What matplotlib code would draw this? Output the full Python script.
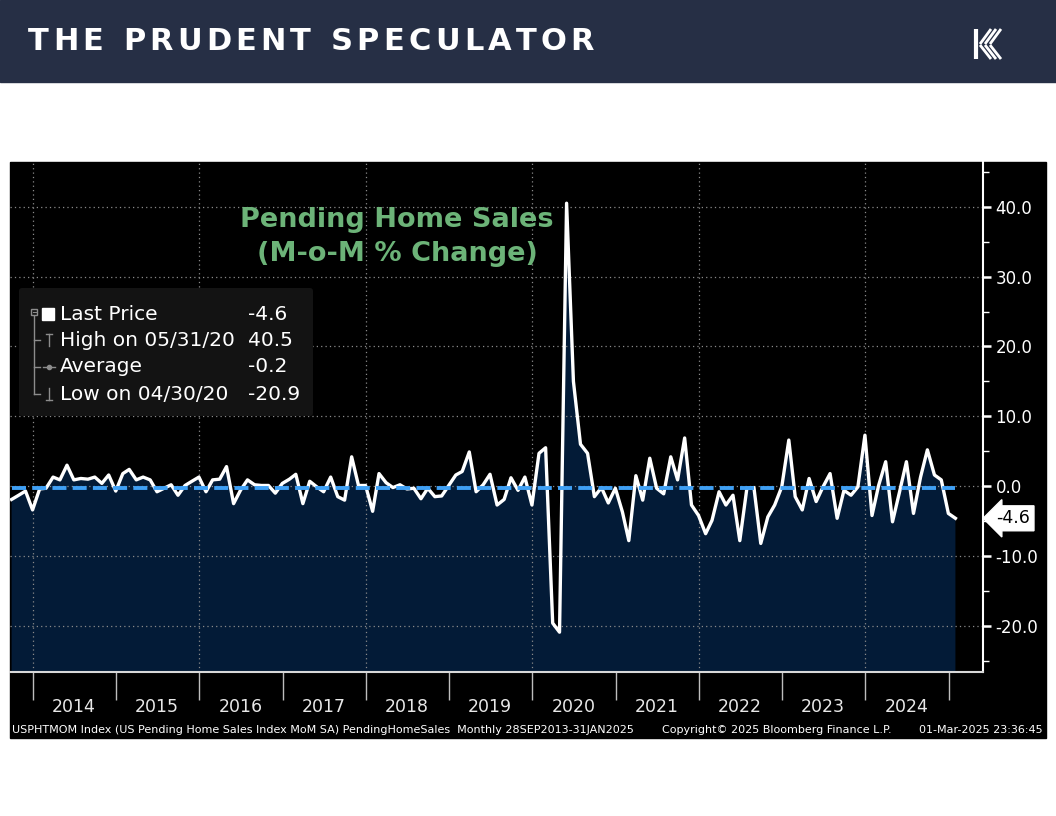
import matplotlib
matplotlib.use("Agg")
import matplotlib.pyplot as plt
import matplotlib.transforms as mtransforms
from matplotlib.patches import Rectangle, FancyBboxPatch
import numpy as np
import pandas as pd

W, H = 1056, 816

# US pending home sales, month-over-month % change (Sep 2013 .. Jan 2025)
mom_change = [
    -1.9, -1.3, -0.7, -3.4, -0.4, -0.3, 1.3, 0.9, 3.0, 0.9, 1.1, 1.0,
    1.3, 0.4, 1.6, -0.7, 1.8, 2.4, 0.9, 1.3, 0.9, -0.8, -0.3, 0.2,
    -1.3, 0.1, 0.7, 1.3, -0.8, 0.9, 1.0, 2.8, -2.5, -0.6, 0.9, 0.2,
    0.1, 0.1, -1.0, 0.4, 1.0, 1.7, -2.5, 0.7, -0.1, -0.8, 1.3, -1.5,
    -2.0, 4.2, 0.1, 0.1, -3.6, 1.8, 0.5, -0.2, 0.2, -0.4, -0.3, -1.8,
    -0.3, -1.5, -1.4, 0.1, 1.6, 2.1, 4.9, -0.8, 0.2, 1.7, -2.7, -1.9,
    1.2, -0.6, 1.3, -2.7, 4.7, 5.5, -19.6, -20.9, 40.5, 15.0, 6.0, 4.7,
    -1.5, -0.2, -2.4, -0.3, -3.7, -7.8, 1.5, -2.0, 4.0, -0.3, -1.1, 4.2,
    0.9, 6.9, -2.7, -4.2, -6.8, -4.9, -0.8, -2.7, -1.3, -7.8, -0.3, -0.2,
    -8.2, -4.4, -2.7, -0.1, 6.6, -1.5, -3.4, 1.1, -2.2, -0.1, 1.8, -4.6,
    -0.6, -1.3, -0.1, 7.3, -4.2, 0.1, 3.5, -5.1, -0.8, 3.5, -3.9, 1.3,
    5.2, 1.6, 0.9, -3.9, -4.6,
]
# month-end dates starting 30 Sep 2013
dates = pd.date_range("2013-10-01", periods=len(mom_change), freq="MS") - pd.Timedelta(days=1)

average_value = -0.2
legend_labels = ["Last Price", "High on 05/31/20", "Average", "Low on 04/30/20"]
legend_values = [mom_change[-1], max(mom_change), average_value, min(mom_change)]

y_major = [40, 30, 20, 10, 0, -10, -20]
y_minor = [45, 35, 25, 15, 5, -5, -15, -25]
label_years = list(range(2014, 2025))
grid_years = [2014, 2016, 2018, 2020, 2022, 2024]

fig = plt.figure(figsize=(W / 100, H / 100), dpi=100, facecolor="white")

# background layer in pixel coordinates
bg = fig.add_axes([0, 0, 1, 1], zorder=0)
bg.set_xlim(0, W)
bg.set_ylim(H, 0)
bg.axis("off")
bg.add_patch(Rectangle((0, 0), W, 82, color="#262f45"))
bg.add_patch(Rectangle((10, 162), 1036, 576, color="black"))

# header title with letter spacing
renderer = fig.canvas.get_renderer()
x = 28
for ch in "THE PRUDENT SPECULATOR":
    if ch == " ":
        x += 15
        continue
    t = bg.text(x, 41, ch, ha="left", va="center", color="white",
                fontsize=22, fontweight="bold", family="DejaVu Sans")
    x += t.get_window_extent(renderer).width + 4.3

# logo mark
bg.plot([976, 976], [29, 59], color="white", lw=3, solid_capstyle="butt")
for dx in (0, 5, 10):
    bg.plot([980 + dx, 991 + dx], [44, 29], color="white", lw=2, solid_capstyle="butt")
    bg.plot([980 + dx, 991 + dx], [45, 59], color="white", lw=2, solid_capstyle="butt")

# main chart
ax = fig.add_axes([10 / W, (H - 672) / H, (983 - 10) / W, (672 - 162) / H], zorder=1)
ax.set_facecolor("black")

ax.fill_between(dates, mom_change, -100, color="#031b37", lw=0, zorder=1)
for v in y_major:
    ax.axhline(v, color="#8a8a8a", lw=0.9, ls=(0, (1, 2.5)), zorder=2)
for yr in grid_years:
    ax.axvline(pd.Timestamp(f"{yr}-01-01"), color="#8a8a8a", lw=0.9, ls=(0, (1, 2.5)), zorder=2)
ax.plot(dates, mom_change, color="white", lw=2.4, zorder=3)
ax.plot([dates[0], dates[-1]], [average_value, average_value], color="#3fa0f5",
        lw=2.8, dashes=(3.6, 1.6), zorder=4)

ax.set_xlim(pd.Timestamp("2013-09-23"), pd.Timestamp("2025-06-01"))
ax.set_ylim(-26.6, 46.4)

ax.yaxis.tick_right()
ax.set_yticks(y_major)
ax.set_yticklabels([f"{v:.1f}" for v in y_major])
ax.set_yticks(y_minor, minor=True)
ax.tick_params(axis="y", which="major", direction="out", length=6, width=1.8,
               color="white", labelcolor="white", labelsize=12, pad=3)
ax.tick_params(axis="y", which="minor", direction="out", length=4, width=1, color="white")

ax.set_xticks([pd.Timestamp(f"{y}-07-01") for y in label_years])
ax.set_xticklabels([str(y) for y in label_years])
ax.set_xticks([pd.Timestamp(f"{y}-01-01") for y in range(2014, 2026)], minor=True)
ax.tick_params(axis="x", which="major", length=0, pad=19, labelsize=12.5, labelcolor="#e8e8e8")
ax.tick_params(axis="x", which="minor", direction="out", length=20, width=1, color="#bdbdbd")

for side in ("left", "top"):
    ax.spines[side].set_visible(False)
ax.spines["right"].set_color("white")
ax.spines["right"].set_linewidth(1.5)
ax.spines["bottom"].set_color("#d8d8d8")
ax.spines["bottom"].set_linewidth(1.5)

# last value tag
trans = mtransforms.blended_transform_factory(ax.transAxes, ax.transData)
ax.text(1.014, mom_change[-1], f"{mom_change[-1]:.1f}", transform=trans, ha="left",
        va="center", fontsize=12.5, color="black", clip_on=False, zorder=5,
        bbox=dict(boxstyle="larrow,pad=0.2", fc="white", ec="white"))

# chart title
fig.text(397 / W, 1 - 220 / H, "Pending Home Sales", ha="center", va="center",
         color="#6cb378", fontsize=19.5, fontweight="bold")
fig.text(397 / W, 1 - 254 / H, "(M-o-M % Change)", ha="center", va="center",
         color="#6cb378", fontsize=19.5, fontweight="bold")

# legend box
ov = fig.add_axes([0, 0, 1, 1], zorder=2)
ov.set_xlim(0, W)
ov.set_ylim(H, 0)
ov.axis("off")
ov.add_patch(FancyBboxPatch((19, 288), 294, 128, boxstyle="round,pad=0,rounding_size=3",
                            fc="#131313", ec="none"))
rows = [314, 340, 367, 394]
for yy, lab, val in zip(rows, legend_labels, legend_values):
    ov.text(60, yy, lab, ha="left", va="center", color="white", fontsize=14.5)
    ov.text(248, yy, f"{val:.1f}", ha="left", va="center", color="white", fontsize=14.5)
gray = "#8c8c8c"
ov.add_patch(Rectangle((31, 309), 6, 6, fill=False, ec=gray, lw=1))
ov.plot([32.5, 35.5], [312, 312], color=gray, lw=0.8)
ov.add_patch(Rectangle((42, 308), 12, 12, color="white"))
ov.plot([34, 34], [316, 394], color=gray, lw=1)
for yy in rows[1:]:
    ov.plot([34, 40], [yy, yy], color=gray, lw=1)
ov.plot([49, 49], [334, 346], color=gray, lw=1)
ov.plot([46, 52], [334, 334], color=gray, lw=1)
ov.plot([43, 55], [367, 367], color=gray, lw=1)
ov.plot([49], [367], marker="o", ms=3, color=gray)
ov.plot([49, 49], [388, 400], color=gray, lw=1)
ov.plot([46, 52], [400, 400], color=gray, lw=1)

# footer
fig.text(12 / W, 1 - 730 / H,
         "USPHTMOM Index (US Pending Home Sales Index MoM SA) PendingHomeSales  Monthly 28SEP2013-31JAN2025",
         ha="left", va="center", color="white", fontsize=8.0)
fig.text(662 / W, 1 - 730 / H, "Copyright\u00a9 2025 Bloomberg Finance L.P.",
         ha="left", va="center", color="white", fontsize=8.0)
fig.text(1043 / W, 1 - 730 / H, "01-Mar-2025 23:36:45",
         ha="right", va="center", color="white", fontsize=8.0)

fig.savefig("out.png", dpi=100, facecolor="white")
